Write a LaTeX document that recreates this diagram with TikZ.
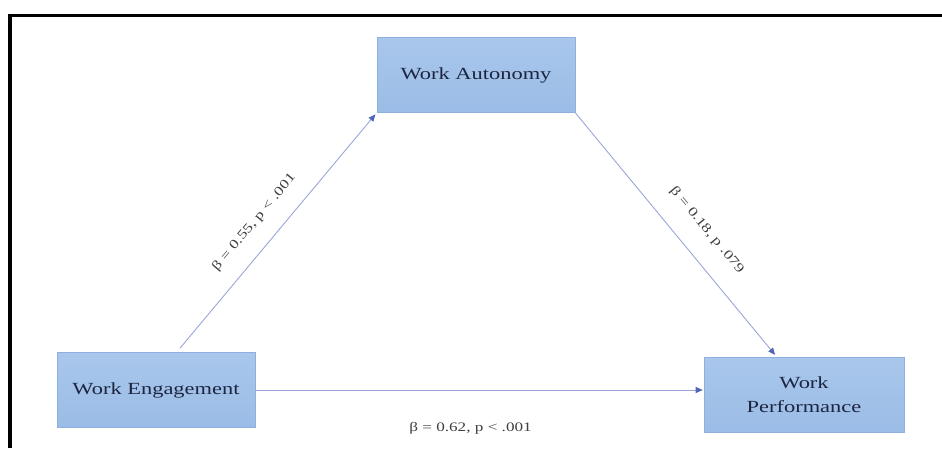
\documentclass[tikz,border=0pt]{standalone}
\usepackage{fontspec}
\setmainfont[FakeStretch=1.32]{Liberation Serif}
\usetikzlibrary{arrows.meta}

\definecolor{boxtop}{HTML}{A9C7EC}
\definecolor{boxbottom}{HTML}{9BBCE6}
\definecolor{boxedge}{HTML}{8EB0DE}
\definecolor{boxtext}{HTML}{1C2640}
\definecolor{arrowline}{HTML}{9CA5D8}
\definecolor{tipblue}{HTML}{4F66B4}
\definecolor{labelgray}{HTML}{3F3F3F}

\begin{document}
\begin{tikzpicture}[x=1pt, y=-1pt, arrowline, line width=0.9pt,
    -{Triangle[length=7pt, width=6pt, color=tipblue]},
    factor/.style={rectangle, draw=boxedge, line width=0.6pt, top color=boxtop, bottom color=boxbottom,
      text=boxtext, font=\fontsize{17}{24}\selectfont, align=center, minimum width=198pt, minimum height=75pt},
    coef/.style={text=labelgray, font=\fontsize{13}{15}\selectfont}]
  \useasboundingbox (0,0) rectangle (942,448);
  \draw[-, black, line width=3.6pt] (10,448) -- (10,15.5) -- (942,15.5);

  \node[factor] (WA) at (476, 75) {Work Autonomy};
  \node[factor] (WE) at (156, 390) {Work Engagement};
  \node[factor, minimum width=200pt] (WP) at (804, 395) {Work\\Performance};

  \path
  ([xshift=24pt, yshift=4pt]WE.north) edge [shorten >=2pt] node [coef, sloped, above=14pt, pos=0.47] {β = 0.55, p < .001} (WA.south west)
  (WA.south east) edge [shorten >=3pt] node [coef, sloped, above=17pt, pos=0.55] {β = 0.18, p .079} ([xshift=-27pt]WP.north)
  (WE.east) edge [shorten >=1pt] node [coef, below=29pt, pos=0.48] {β = 0.62, p < .001} (WE.east -| WP.west);
\end{tikzpicture}
\end{document}
